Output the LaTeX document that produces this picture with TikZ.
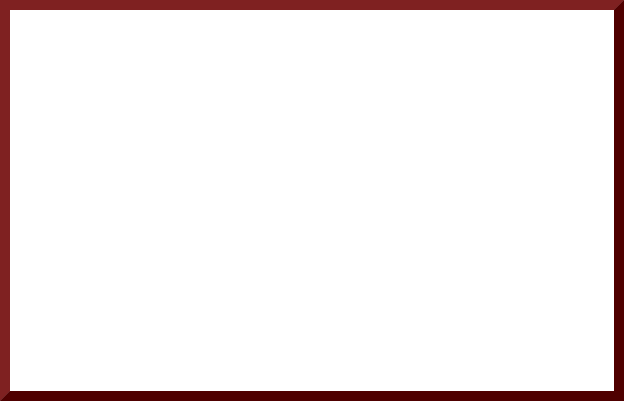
\documentclass[tikz,border=0pt]{standalone}
\begin{document}
\begin{tikzpicture}[x=1pt,y=1pt]
\definecolor{lite}{HTML}{7F2121}
\definecolor{dark}{HTML}{4F0000}
\useasboundingbox (0,0) rectangle (624,401);
\fill[lite] (0,0) -- (0,401) -- (624,401) -- (614,391) -- (10,391) -- (10,10) -- cycle;
\fill[dark] (0,0) -- (624,0) -- (624,401) -- (614,391) -- (614,10) -- (10,10) -- cycle;
\fill[white] (10,10) rectangle (614,391);
\end{tikzpicture}
\end{document}
